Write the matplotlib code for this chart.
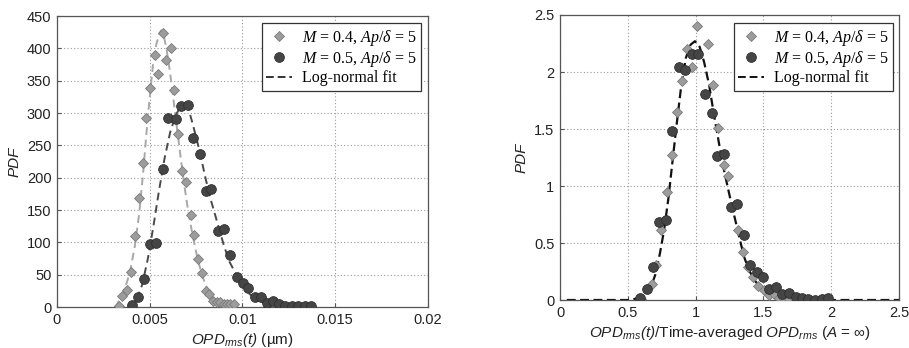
import matplotlib
matplotlib.use("Agg")
import matplotlib.pyplot as plt
from matplotlib.lines import Line2D

plt.rcParams['font.family'] = ['Liberation Sans', 'DejaVu Sans']
plt.rcParams['mathtext.fontset'] = 'custom'
plt.rcParams['mathtext.rm'] = 'Liberation Serif'
plt.rcParams['mathtext.it'] = 'Liberation Serif:italic'
plt.rcParams['mathtext.sf'] = 'Liberation Sans:italic'

# ---------------- Left panel data ----------------
left_m04_x = [0.00333, 0.00353, 0.00376, 0.00400, 0.00421, 0.00443, 0.00461, 0.00479,
              0.00504, 0.00526, 0.00547, 0.00569, 0.00590, 0.00612, 0.00630, 0.00653,
              0.00673, 0.00695, 0.00720, 0.00738, 0.00761, 0.00781, 0.00801, 0.00821,
              0.00842, 0.00862, 0.00880, 0.00898, 0.00916, 0.00934, 0.00952]
left_m04_y = [1.5, 17, 26, 54, 110, 169, 223, 293, 339, 389, 361, 424, 382, 400, 335, 267,
              210, 193, 143, 111, 75, 52, 24, 20, 10, 8, 7, 5, 4, 4, 4]

left_m05_x = [0.00405, 0.00439, 0.00468, 0.00504, 0.00536, 0.00569, 0.00599, 0.00639,
              0.00668, 0.00704, 0.00734, 0.00769, 0.00801, 0.00832, 0.00868, 0.00898,
              0.00934, 0.00968, 0.01003, 0.01031, 0.01066, 0.01100, 0.01134, 0.01166,
              0.01199, 0.01231, 0.01267, 0.01301, 0.01336, 0.01368]
left_m05_y = [3, 15, 44, 98, 99, 214, 292, 291, 311, 312, 261, 237, 180, 183, 118, 121,
              81, 46, 37, 29, 16, 16, 6, 10, 4, 2, 2, 1, 1, 1.5]

left_fit04_x = [0.0031, 0.0032, 0.00356, 0.00392, 0.00419, 0.00443, 0.00464, 0.00482,
                0.00500, 0.00518, 0.00536, 0.00554, 0.00563, 0.00572, 0.00590, 0.00608,
                0.00626, 0.00644, 0.00662, 0.00684, 0.00707, 0.00731, 0.00756, 0.00781,
                0.00806, 0.00833, 0.00860, 0.00896, 0.00932, 0.0097]
left_fit04_y = [0, 2.6, 20, 52, 93, 144, 206, 268, 325, 376, 407, 424, 428, 424, 400, 366,
                325, 283, 242, 193, 149, 111, 77, 50, 31, 16, 8, 2.6, 0.5, 0]

left_fit05_x = [0.0038, 0.0040, 0.0043, 0.0046, 0.0049, 0.0052, 0.0055, 0.0058, 0.0061,
                0.0064, 0.0067, 0.0069, 0.0071, 0.0073, 0.0077, 0.0080, 0.0083, 0.0087,
                0.0090, 0.0093, 0.0097, 0.0100, 0.0103, 0.0107, 0.0111, 0.0116, 0.0122,
                0.0130]
left_fit05_y = [0, 2, 12, 35, 75, 125, 180, 230, 270, 297, 311, 313, 305, 285, 240, 200,
                165, 125, 95, 70, 48, 33, 22, 13, 7, 3, 1, 0]

# ---------------- Right panel data ----------------
right_m04_x = [0.60, 0.676, 0.71, 0.747, 0.789, 0.823, 0.865, 0.902, 0.937, 0.976, 1.010,
               1.091, 1.128, 1.168, 1.207, 1.241, 1.276, 1.310, 1.350, 1.389, 1.426,
               1.463, 1.504, 1.541, 1.581, 1.615, 1.65, 1.69, 1.73, 1.77]
right_m04_y = [0.01, 0.14, 0.31, 0.61, 0.95, 1.27, 1.65, 1.92, 2.20, 2.04, 2.40,
               2.25, 1.89, 1.51, 1.18, 1.09, 0.82, 0.61, 0.42, 0.29, 0.20,
               0.12, 0.09, 0.04, 0.05, 0.015, 0.01, 0.005, 0.005, 0.0]

right_m05_x = [0.590, 0.644, 0.686, 0.730, 0.784, 0.828, 0.878, 0.922, 0.976, 1.020,
               1.069, 1.118, 1.160, 1.212, 1.259, 1.308, 1.359, 1.399, 1.450, 1.497,
               1.541, 1.595, 1.640, 1.689, 1.738, 1.787, 1.831, 1.881, 1.930, 1.979]
right_m05_y = [0.02, 0.10, 0.29, 0.68, 0.70, 1.48, 2.04, 2.02, 2.16, 2.16,
               1.81, 1.64, 1.26, 1.28, 0.82, 0.84, 0.57, 0.31, 0.25, 0.20,
               0.10, 0.11, 0.05, 0.06, 0.03, 0.02, 0.01, 0.0, 0.005, 0.015]

right_fit_x = [0.05, 0.50, 0.533, 0.570, 0.607, 0.640, 0.669, 0.705, 0.737, 0.767, 0.799,
               0.828, 0.858, 0.890, 0.927, 0.963, 0.995, 1.030, 1.062, 1.099, 1.136,
               1.173, 1.209, 1.246, 1.283, 1.320, 1.357, 1.394, 1.443, 1.492, 1.554,
               1.615, 1.713, 1.836, 1.96, 2.5]
right_fit_y = [0, 0, 0.005, 0.015, 0.04, 0.07, 0.11, 0.23, 0.41, 0.61, 0.89,
               1.20, 1.52, 1.84, 2.12, 2.24, 2.27, 2.22, 2.09, 1.89, 1.62,
               1.37, 1.14, 0.94, 0.75, 0.56, 0.38, 0.26, 0.16, 0.10, 0.05,
               0.03, 0.012, 0.003, 0, 0]

left_xticks = [0, 0.005, 0.01, 0.015, 0.02]
left_xticklabels = ['0', '0.005', '0.01', '0.015', '0.02']
left_yticks = [0, 50, 100, 150, 200, 250, 300, 350, 400, 450]
right_ticks = [0, 0.5, 1, 1.5, 2, 2.5]
right_ticklabels = ['0', '0.5', '1', '1.5', '2', '2.5']

label_m04 = r'$M$ = 0.4, $Ap/\delta$ = 5'
label_m05 = r'$M$ = 0.5, $Ap/\delta$ = 5'
label_fit = 'Log-normal fit'

# ---------------- Styles ----------------
dia_face = '#9c9c9c'
dia_edge = '#7a7a7a'
circ_face = '#454545'
circ_edge = '#2e2e2e'
spine_col = '#555555'

fig = plt.figure(figsize=(9.09, 3.48), dpi=100)
axL = fig.add_axes([0.0627, 0.1178, 0.4081, 0.8362])
axR = fig.add_axes([0.6161, 0.1379, 0.3729, 0.8190])


def style_axes(ax):
    for s in ax.spines.values():
        s.set_color(spine_col)
        s.set_linewidth(0.9)
    ax.grid(True, linestyle=(0, (1, 2)), color='#9a9a9a', linewidth=0.8)
    ax.set_axisbelow(True)
    ax.tick_params(direction='in', length=3, color=spine_col, labelsize=10.5,
                   labelcolor='#222222', pad=4)


# Left
axL.plot(left_fit04_x, left_fit04_y, linestyle=(0, (4, 2.5)), color='#a8a8a8', lw=1.4, zorder=2)
axL.plot(left_fit05_x, left_fit05_y, linestyle=(0, (4, 2.5)), color='#4a4a4a', lw=1.4, zorder=2)
axL.plot(left_m04_x, left_m04_y, linestyle='none', marker='D', ms=5.2,
         mfc=dia_face, mec=dia_edge, mew=0.6, zorder=3)
axL.plot(left_m05_x, left_m05_y, linestyle='none', marker='o', ms=7,
         mfc=circ_face, mec=circ_edge, mew=0.6, zorder=4)
axL.set_xlim(0, 0.02)
axL.set_ylim(0, 450)
axL.set_xticks(left_xticks)
axL.set_xticklabels(left_xticklabels)
axL.set_yticks(left_yticks)
style_axes(axL)
axL.set_xlabel(r'$\mathsf{OPD}_{\mathsf{rms}}\mathsf{(t)}$ (µm)', fontsize=11, labelpad=3,
               color='#222222')
axL.set_ylabel('PDF', fontsize=11, fontstyle='italic', labelpad=4, color='#222222')

# Right
axR.plot(right_fit_x, right_fit_y, linestyle=(0, (4, 2)), color='#111111', lw=1.6, zorder=2)
axR.plot(right_m04_x, right_m04_y, linestyle='none', marker='D', ms=5.2,
         mfc=dia_face, mec=dia_edge, mew=0.6, zorder=3)
axR.plot(right_m05_x, right_m05_y, linestyle='none', marker='o', ms=7,
         mfc=circ_face, mec=circ_edge, mew=0.6, zorder=4)
axR.set_xlim(0, 2.5)
axR.set_ylim(0, 2.5)
axR.set_xticks(right_ticks)
axR.set_xticklabels(right_ticklabels)
axR.set_yticks(right_ticks)
axR.set_yticklabels(right_ticklabels)
style_axes(axR)
axR.set_xlabel(r'$\mathsf{OPD}_{\mathsf{rms}}\mathsf{(t)}$/Time-averaged $\mathsf{OPD}_{\mathsf{rms}}$ ($\mathsf{A}$ = ∞)',
               fontsize=11, labelpad=3, color='#222222')
axR.set_ylabel('PDF', fontsize=11, fontstyle='italic', labelpad=4, color='#222222')


def add_legend(ax, fitcolor, anchor):
    handles = [
        Line2D([], [], linestyle='none', marker='D', ms=5.2, mfc=dia_face, mec=dia_edge, mew=0.6),
        Line2D([], [], linestyle='none', marker='o', ms=7, mfc=circ_face, mec=circ_edge, mew=0.6),
        Line2D([], [], linestyle=(0, (4, 2)), color=fitcolor, lw=1.4),
    ]
    leg = ax.legend(handles, [label_m04, label_m05, label_fit], loc='upper right',
                    bbox_to_anchor=anchor, fancybox=False, framealpha=1,
                    edgecolor='#333333', handlelength=1.6, handletextpad=0.6,
                    borderpad=0.3, labelspacing=0.08, borderaxespad=0.0,
                    prop={'family': 'Liberation Serif', 'size': 11.5})
    leg.get_frame().set_linewidth(0.9)
    return leg


add_legend(axL, '#333333', (0.981, 0.976))
add_legend(axR, '#111111', (0.982, 0.972))

fig.savefig('out.png', dpi=100)
